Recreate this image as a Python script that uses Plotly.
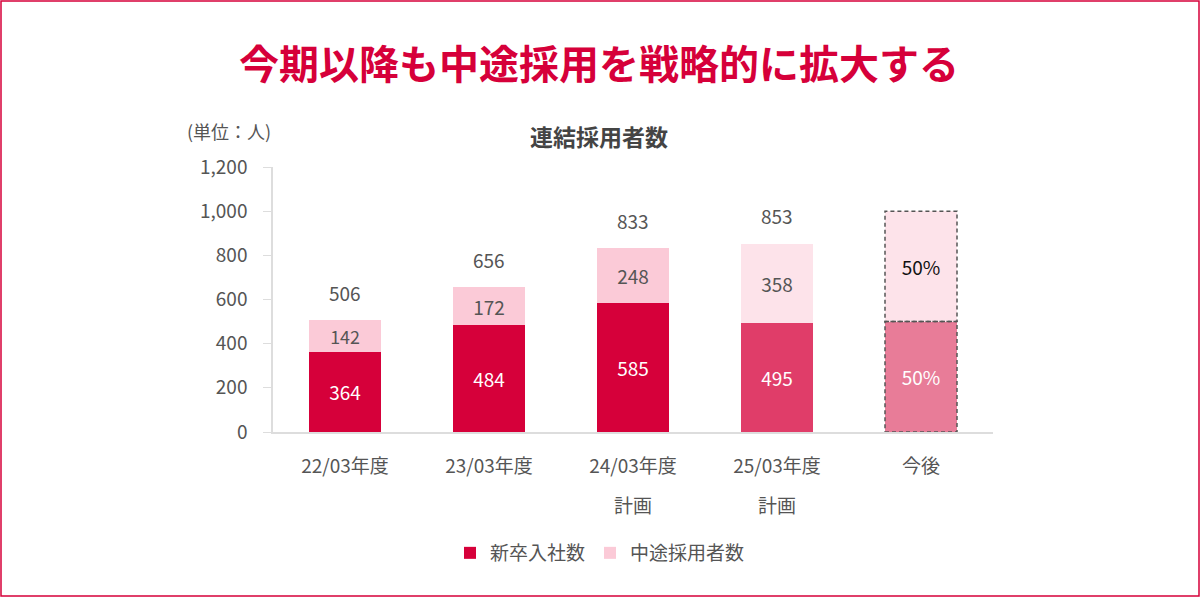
import plotly.graph_objects as go

categories = ["22/03年度", "23/03年度", "24/03年度", "25/03年度", "今後"]
sub_labels = ["", "", "計画", "計画", ""]
new_grad = [364, 484, 585, 495, 500]
mid_career = [142, 172, 248, 358, 500]
new_text = ["364", "484", "585", "495", "50%"]
mid_text = ["142", "172", "248", "358", "50%"]
totals = [506, 656, 833, 853, None]

new_colors = ["#D6003A", "#D6003A", "#D6003A", "#E03D69", "#E87C98"]
mid_colors = ["#FBCAD7", "#FBCAD7", "#FBCAD7", "#FDE3EA", "#FDE3EA"]
new_text_colors = ["white"] * 5
mid_text_colors = ["#555555"] * 4 + ["#111111"]

FONT = "Noto Sans CJK JP"
GRAY = "#555555"

W, H = 1200, 597
L, R, T, B = 273, 207, 167, 165
PW, PH = W - L - R, H - T - B

def py(p):
    return (H - B - p) / PH

def px(p):
    return (p - L) / PW

x_idx = list(range(len(categories)))

fig = go.Figure()
fig.add_trace(go.Bar(
    x=x_idx, y=new_grad, name="新卒入社数",
    marker=dict(color=new_colors, line=dict(width=0)),
    text=new_text, textposition="inside", insidetextanchor="middle",
    textfont=dict(color=new_text_colors, size=19, family=FONT),
    width=0.5,
))
fig.add_trace(go.Bar(
    x=x_idx, y=mid_career, name="中途採用者数",
    marker=dict(color=mid_colors, line=dict(width=0)),
    text=mid_text, textposition="inside", insidetextanchor="middle",
    textfont=dict(color=mid_text_colors, size=19, family=FONT),
    width=0.5,
))

annotations = []
for i, t in enumerate(totals):
    if t is not None:
        annotations.append(dict(x=i, y=t, xref="x", yref="y", text=str(t),
                                showarrow=False, yshift=28, yanchor="middle",
                                font=dict(size=19, color=GRAY, family=FONT)))
for i, s in enumerate(sub_labels):
    if s:
        annotations.append(dict(x=i, y=py(504), xref="x", yref="paper", text=s,
                                showarrow=False, yanchor="middle",
                                font=dict(size=19, color=GRAY, family=FONT)))
annotations.append(dict(x=px(599), xref="paper", xanchor="center", y=py(62), yref="paper",
                        yanchor="middle",
                        text="<b>今期以降も中途採用を戦略的に拡大する</b>", showarrow=False,
                        font=dict(size=40, color="#D6003A", family=FONT)))
annotations.append(dict(x=px(599), xref="paper", xanchor="center", y=py(136), yref="paper",
                        yanchor="middle",
                        text="<b>連結採用者数</b>", showarrow=False,
                        font=dict(size=23, color="#444444", family=FONT)))
annotations.append(dict(x=px(229), xref="paper", xanchor="center", y=py(131), yref="paper",
                        yanchor="middle",
                        text="(単位：人)", showarrow=False,
                        font=dict(size=18, color=GRAY, family=FONT)))

shapes = []
fi = len(categories) - 1
base = 0
for v in [new_grad[fi], mid_career[fi]]:
    shapes.append(dict(type="rect", xref="x", yref="y",
                       x0=fi - 0.25, x1=fi + 0.25, y0=base, y1=base + v,
                       line=dict(color="#555555", width=1.5, dash="4px,3px"),
                       fillcolor="rgba(0,0,0,0)", layer="above"))
    base += v
shapes.append(dict(type="rect", xref="paper", yref="paper",
                   x0=px(1), x1=px(W - 1), y0=py(H - 1), y1=py(1),
                   line=dict(color="#D6003A", width=1.5),
                   fillcolor="rgba(0,0,0,0)", layer="above"))

fig.update_layout(
    barmode="stack",
    width=W, height=H,
    margin=dict(l=L, r=R, t=T, b=B, pad=0),
    paper_bgcolor="white", plot_bgcolor="white",
    font=dict(family=FONT, color=GRAY),
    showlegend=True,
    legend=dict(orientation="h", x=px(600), xanchor="center", y=py(553), yanchor="middle",
                font=dict(size=19, color=GRAY, family=FONT), traceorder="normal",
                itemsizing="constant", itemwidth=30),
    annotations=annotations,
    shapes=shapes,
)
fig.update_xaxes(
    tickmode="array", tickvals=x_idx, ticktext=categories,
    range=[-0.5, len(categories) - 0.5],
    showline=True, linecolor="#DDDDDD", linewidth=1.5,
    showgrid=False, ticks="", zeroline=False,
    tickfont=dict(size=19, color=GRAY, family=FONT),
    ticklabelstandoff=16,
)
fig.update_yaxes(
    range=[0, 1200], tickvals=[0, 200, 400, 600, 800, 1000, 1200],
    tickformat=",d",
    showline=True, linecolor="#DDDDDD", linewidth=1.5,
    showgrid=False, zeroline=False,
    ticks="outside", ticklen=8, tickcolor="#DDDDDD",
    tickfont=dict(size=19, color=GRAY, family=FONT),
    ticklabelstandoff=12,
)

fig.write_html("out.html", config={"displayModeBar": False},
               post_script="document.body.style.margin='0';document.body.style.overflow='hidden';")
